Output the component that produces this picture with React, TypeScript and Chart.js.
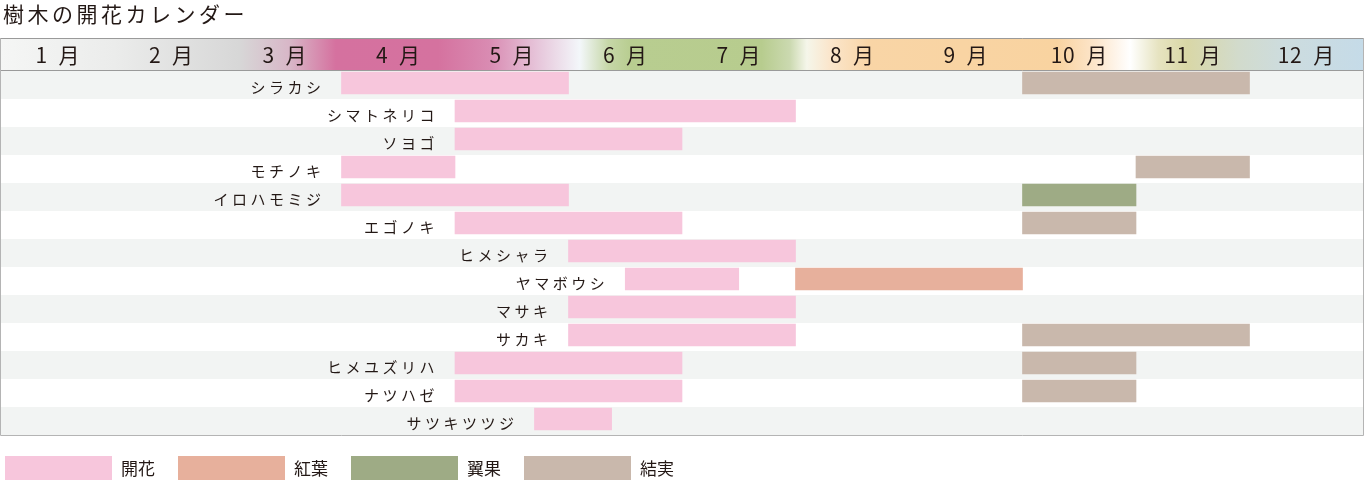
import React, { useEffect, useRef } from "react"
import { Chart, registerables } from "chart.js"

Chart.register(...registerables)

const title = "樹木の開花カレンダー"
const months = ["1 月", "2 月", "3 月", "4 月", "5 月", "6 月", "7 月", "8 月", "9 月", "10 月", "11 月", "12 月"]
const trees = [
  "シラカシ",
  "シマトネリコ",
  "ソヨゴ",
  "モチノキ",
  "イロハモミジ",
  "エゴノキ",
  "ヒメシャラ",
  "ヤマボウシ",
  "マサキ",
  "サカキ",
  "ヒメユズリハ",
  "ナツハゼ",
  "サツキツツジ",
]

type Span = [number, number] | null

// 期間は [開始, 終了]（0 = 1月はじめ, 12 = 12月おわり）
const flowering: Span[] = [
  [3, 5], [4, 7], [4, 6], [3, 4], [3, 5], [4, 6], [5, 7],
  [5.5, 6.5], [5, 7], [5, 7], [4, 6], [4, 6], [4.7, 5.38],
]
const autumnLeaves: Span[] = [
  null, null, null, null, null, null, null,
  [7, 9], null, null, null, null, null,
]
const samara: Span[] = [
  null, null, null, null, [9, 10], null, null,
  null, null, null, null, null, null,
]
const fruiting: Span[] = [
  [9, 11], null, null, [10, 11], null, [9, 10], null,
  null, null, [9, 11], [9, 10], [9, 10], null,
]

const seriesNames = ["開花", "紅葉", "翼果", "結実"]
const seriesData = [flowering, autumnLeaves, samara, fruiting]
const seriesColors = ["#f7c6dc", "#e7b09c", "#9eab85", "#c9b8ac"]

const FONT = '"Noto Sans CJK JP", "Noto Sans", sans-serif'

// ヘッダーのグラデーション（月の位置, 色）
const headerStops: [number, string][] = [
  [0, "#f5f6f5"],
  [1, "#ebeceb"],
  [2.1, "#d7d7d7"],
  [2.55, "#d8b6c7"],
  [2.95, "#d5719f"],
  [3.85, "#d5729f"],
  [4.3, "#d98bb2"],
  [4.75, "#e7c8dc"],
  [5.1, "#f3f7fa"],
  [5.35, "#c6d7a8"],
  [5.55, "#b8cd90"],
  [6.7, "#b7cc8e"],
  [6.95, "#cbd9b0"],
  [7.1, "#f5f6ea"],
  [7.3, "#fbe6cc"],
  [7.65, "#f9d5a6"],
  [9.3, "#f9d3a0"],
  [9.65, "#fde6cc"],
  [9.95, "#ffffff"],
  [10.2, "#e6e3c0"],
  [10.45, "#d9d7a6"],
  [10.9, "#d2dbcc"],
  [11.3, "#cddcde"],
  [12, "#c5dbe8"],
]

const calendarPlugin = {
  id: "calendar",
  beforeDatasetsDraw(chart: any) {
    const { ctx } = chart
    const x = chart.scales.x
    const y = chart.scales.y
    const left = x.left
    const right = x.right
    const rowH = y.getPixelForValue(1) - y.getPixelForValue(0)
    const firstTop = y.getPixelForValue(0) - 12
    const headerTop = 38
    ctx.save()

    // 行の背景
    trees.forEach((_, i) => {
      const top = y.getPixelForValue(i) - 12
      ctx.fillStyle = i % 2 === 0 ? "#f2f4f3" : "#ffffff"
      ctx.fillRect(left, top, right - left, rowH)
    })

    // ヘッダー
    const grad = ctx.createLinearGradient(left, 0, right, 0)
    headerStops.forEach(([v, c]) => grad.addColorStop(v / 12, c))
    ctx.fillStyle = grad
    ctx.fillRect(left, headerTop, right - left, firstTop - headerTop)

    ctx.strokeStyle = "#9a9a9a"
    ctx.lineWidth = 1
    ctx.beginPath()
    ctx.moveTo(left, headerTop + 0.5)
    ctx.lineTo(right, headerTop + 0.5)
    ctx.moveTo(left, firstTop - 0.5)
    ctx.lineTo(right, firstTop - 0.5)
    ctx.stroke()

    // 枠
    const bottom = firstTop + rowH * trees.length
    ctx.strokeStyle = "#b4b4b4"
    ctx.beginPath()
    ctx.moveTo(left - 0.5, headerTop)
    ctx.lineTo(left - 0.5, bottom + 0.5)
    ctx.lineTo(right + 0.5, bottom + 0.5)
    ctx.lineTo(right + 0.5, headerTop)
    ctx.stroke()

    // 月ラベル（数字と「月」の間は少し広めに）
    ctx.fillStyle = "#231815"
    ctx.font = `21px ${FONT}`
    ctx.textAlign = "center"
    ctx.textBaseline = "middle"
    ;(ctx as any).letterSpacing = "0.5px"
    months.forEach((m, i) => {
      ctx.fillText(m.replace(" ", "\u2002"), x.getPixelForValue(i + 0.5), (headerTop + firstTop) / 2 + 1)
    })

    // タイトル
    ctx.textAlign = "left"
    ctx.font = `21px ${FONT}`
    ;(ctx as any).letterSpacing = "3.5px"
    ctx.fillText(title, 3, 14)

    // 凡例
    ctx.font = `17px ${FONT}`
    ;(ctx as any).letterSpacing = "0px"
    let lx = 5
    seriesNames.forEach((name, i) => {
      ctx.fillStyle = seriesColors[i]
      ctx.fillRect(lx, 456, 107, 26)
      ctx.fillStyle = "#231815"
      ctx.fillText(name, lx + 116, 469)
      lx += 116 + ctx.measureText(name).width + 23
    })
    ctx.restore()
  },
  afterDatasetsDraw(chart: any) {
    const { ctx } = chart
    const x = chart.scales.x
    const y = chart.scales.y
    ctx.save()
    ctx.fillStyle = "#231815"
    ctx.font = `15px ${FONT}`
    ctx.textAlign = "right"
    ctx.textBaseline = "middle"
    ;(ctx as any).letterSpacing = "3.5px"
    trees.forEach((name, i) => {
      const starts = seriesData.map((s) => s[i]).filter((s) => s).map((s) => (s as [number, number])[0])
      const start = Math.min(...starts)
      ctx.fillText(name, x.getPixelForValue(start) - 17, y.getPixelForValue(i) + 4)
    })
    ctx.restore()
  },
}

export default function App() {
  const canvasRef = useRef<HTMLCanvasElement>(null)
  const chartRef = useRef<Chart | null>(null)

  useEffect(() => {
    document.body.style.margin = "0"
    if (!canvasRef.current) return
    const ctx = canvasRef.current.getContext("2d")
    if (!ctx) return

    chartRef.current?.destroy()

    chartRef.current = new Chart(ctx, {
      type: "bar",
      data: {
        labels: trees,
        datasets: seriesNames.map((name, i) => ({
          label: name,
          data: seriesData[i] as any,
          backgroundColor: seriesColors[i],
          borderWidth: 0,
          barThickness: 22,
          grouped: false,
        })),
      },
      options: {
        indexAxis: "y",
        animation: false,
        responsive: true,
        maintainAspectRatio: false,
        layout: { padding: { top: 69, bottom: 47, left: 1, right: 1 } },
        scales: {
          x: { type: "linear", min: 0, max: 12, display: false },
          y: { type: "category", display: false, offset: true },
        },
        plugins: {
          legend: { display: false },
          title: { display: false },
          tooltip: { enabled: false },
        },
      },
      plugins: [calendarPlugin],
    })

    return () => {
      chartRef.current?.destroy()
      chartRef.current = null
    }
  }, [])

  return (
    <div style={{ position: "relative", width: 1364, height: 480 }}>
      <canvas ref={canvasRef} />
    </div>
  )
}
